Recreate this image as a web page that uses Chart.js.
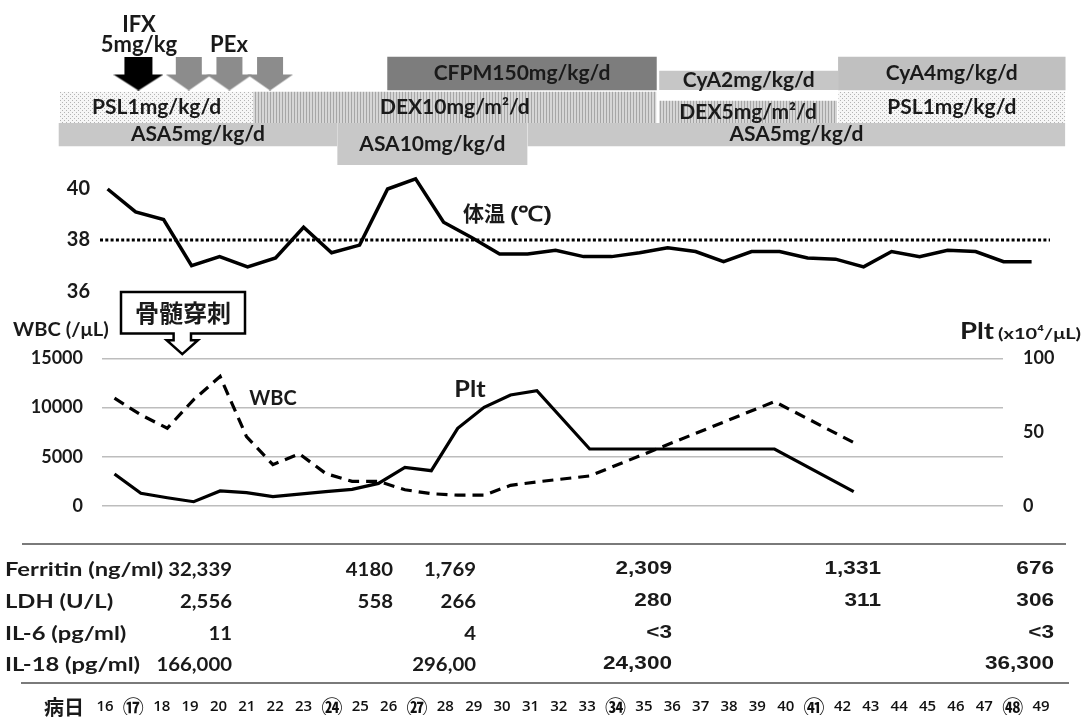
<!DOCTYPE html>
<html>
<head>
<meta charset="utf-8">
<script src="https://cdn.jsdelivr.net/npm/chart.js@4.4.1/dist/chart.umd.min.js"></script>
<style>
  body { margin: 0; background: #fff; width: 1089px; height: 722px; overflow: hidden; position: relative; font-family: Lato, 'Noto Sans CJK JP', sans-serif; }
  canvas { position: absolute; left: 0; }
  .t { position: absolute; font-weight: 700; white-space: nowrap; color: #1a1a1a; line-height: 1; }
  .cjk { font-family: 'Noto Sans CJK JP', sans-serif; }
  .arial { font-family: 'Liberation Sans', Arial, sans-serif; }
  .rule { position: absolute; height: 0; border-top: 2.5px solid #7a7a7a; }
</style>
</head>
<body>
<canvas id="txChart" width="1089" height="170" style="top:0"></canvas>
<canvas id="tempChart" width="1089" height="135" style="top:165px"></canvas>
<canvas id="labChart" width="1089" height="185" style="top:340px"></canvas>
<canvas id="dayChart" width="1089" height="40" style="top:675px"></canvas>
<svg width="1089" height="722" style="position:absolute;left:0;top:0">
  <path d="M121,292 H245 V333.4 H191 V340.3 H197.9 L182.3,354.2 L166.7,340.3 H173.6 V333.4 H121 Z"
        fill="#fff" stroke="#000" stroke-width="2.5" stroke-linejoin="miter"/>
</svg>
<div class="rule" style="left:22px;top:543px;width:1044px"></div>
<div class="rule" style="left:21px;top:682px;width:1048px"></div>

<script>
// ---- data ----
const dayLabels = ['16', '⑰', '18', '19', '20', '21', '22', '23', '㉔', '25', '26', '㉗', '28', '29', '30', '31', '32',
                   '33', '㉞', '35', '36', '37', '38', '39', '40', '㊶', '42', '43', '44', '45', '46', '47', '㊽', '49'];

const tempDays = [16, 17, 18, 19, 20, 21, 22, 23, 24, 25, 26, 27, 28, 29, 30, 31, 32,
                  33, 34, 35, 36, 37, 38, 39, 40, 41, 42, 43, 44, 45, 46, 47, 48, 49];
const tempValues = [40.0, 39.1, 38.8, 37.0, 37.35, 36.95, 37.3, 38.5, 37.5, 37.8, 40.0, 40.4, 38.7, 38.1, 37.45, 37.45, 37.6,
                    37.35, 37.35, 37.5, 37.7, 37.55, 37.15, 37.55, 37.55, 37.3, 37.25, 36.95, 37.55, 37.35, 37.6, 37.55, 37.15, 37.15];
const feverLine = 38;

const labDays = [16, 17, 18, 19, 20, 21, 22, 23, 24, 25, 26, 27, 28, 29, 30, 31, 32, 34, 41, 44];
const wbcValues = [10950, 9250, 7900, 10800, 13150, 7050, 4200, 5300, 3300, 2500, 2500, 1650, 1250, 1100, 1100, 2100, 2450, 3050, 10600, 6450];
const pltValues = [21.7, 8.6, 5.6, 2.9, 10.2, 9.0, 6.3, 8.1, 9.7, 11.3, 15.3, 26.2, 23.9, 52.6, 66.8, 75.2, 78.1, 38.6, 38.6, 9.7];

// treatments: name, row, start day, end day
const drugNames = ['CFPM150mg/kg/d', 'CyA2mg/kg/d', 'CyA4mg/kg/d', 'PSL1mg/kg/d', 'DEX10mg/m²/d', 'DEX5mg/m²/d',
                   'PSL1mg/kg/d', 'ASA5mg/kg/d', 'ASA5mg/kg/d'];
const drugRows = ['r1', 'r1', 'r1', 'r2', 'r2', 'r2', 'r2', 'r3', 'r3'];
const drugStart = [26.0, 35.7, 42.1, 14.3, 21.2, 35.7, 42.1, 14.25, 31.0];
const drugEnd = [35.6, 42.1, 50.2, 21.2, 35.6, 42.05, 50.2, 24.2, 50.2];
const asaHighName = ['ASA10mg/kg/d'];
const asaHighStart = [24.2];
const asaHighEnd = [31.0];
const ifxDays = [17.1];
const pexDays = [18.9, 20.35, 21.8];

const labNames = ['Ferritin (ng/ml)', 'LDH (U/L)', 'IL-6 (pg/ml)', 'IL-18 (pg/ml)'];
const ferritin = ['32,339', '4180', '1,769', '2,309', '1,331', '676'];
const ldh = ['2,556', '558', '266', '280', '311', '306'];
const il6 = ['11', '', '4', '<3', '', '<3'];
const il18 = ['166,000', '', '296,00', '24,300', '', '36,300'];

// ---- defaults ----
Chart.defaults.font.family = "Lato, 'Noto Sans CJK JP', sans-serif";
Chart.defaults.font.weight = 'bold';
Chart.defaults.color = '#1a1a1a';
Chart.defaults.animation = false;
Chart.defaults.responsive = false;
Chart.defaults.plugins.legend.display = false;
Chart.defaults.plugins.tooltip.enabled = false;

// y axes: keep the chart area exactly where the padding puts it
function fixAxis(width) {
    return s => { s.width = width; s.paddingTop = 0; s.paddingBottom = 0; };
}

// ---- treatment bars ----
const txCanvas = document.getElementById('txChart');
const txCtx = txCanvas.getContext('2d');

function tilePattern(w, h, bg, fg, dots) {
    const c = document.createElement('canvas');
    c.width = w; c.height = h;
    const g = c.getContext('2d');
    g.fillStyle = bg; g.fillRect(0, 0, w, h);
    g.fillStyle = fg;
    dots.forEach(d => g.fillRect(d[0], d[1], d[2], d[3]));
    return txCtx.createPattern(c, 'repeat');
}
const dotFill = tilePattern(4, 4, '#f6f6f6', '#b4b4b4', [[0, 0, 1, 1], [2, 2, 1, 1]]);
const stripeFill = tilePattern(3, 1, '#d6d6d6', '#a6a6a6', [[0, 0, 1, 1]]);

function arrowImg(color, headW, stemW, h, stemH) {
    const c = document.createElement('canvas');
    c.width = headW; c.height = h;
    const g = c.getContext('2d');
    const s0 = (headW - stemW) / 2;
    g.fillStyle = color;
    g.beginPath();
    g.moveTo(s0, 0); g.lineTo(s0 + stemW, 0); g.lineTo(s0 + stemW, stemH);
    g.lineTo(headW, stemH); g.lineTo(headW / 2, h); g.lineTo(0, stemH); g.lineTo(s0, stemH);
    g.closePath(); g.fill();
    return c;
}

const drugColors = ['#7d7d7d', '#c6c6c6', '#c0c0c0', dotFill, stripeFill, stripeFill, dotFill, '#c8c8c8', '#c8c8c8'];
const clear = 'rgba(0,0,0,0)';
// trim rows to their drawn heights
const drugTrim = [{}, {top: 14}, {}, {top: 2}, {top: 2}, {top: 11}, {top: 2}, {bottom: 10}, {bottom: 10}];

const barLabels = {
    id: 'barLabels',
    afterDatasetsDraw(chart) {
        const ctx = chart.ctx;
        ctx.save();
        ctx.font = "bold 21px Lato, sans-serif";
        ctx.fillStyle = '#1a1a1a';
        ctx.textAlign = 'center';
        ctx.textBaseline = 'middle';
        chart.data.datasets.forEach((ds, di) => {
            if (!ds.names) return;
            chart.getDatasetMeta(di).data.forEach((bar, i) => {
                const p = bar.getProps(['x', 'y', 'base'], true);
                const bw = Array.isArray(ds.borderWidth) ? ds.borderWidth[i] : ds.borderWidth;
                const cy = p.y + ((bw.top || 0) - (bw.bottom || 0)) / 2;
                ctx.fillText(ds.names[i], (p.x + p.base) / 2, cy);
            });
        });
        ctx.restore();
    }
};

new Chart(txCtx, {
    type: 'bar',
    data: {
        labels: ['r1', 'r2', 'r3'],
        datasets: [
            {
                type: 'scatter',
                data: ifxDays.map(d => ({x: d, y: 'r1'})),
                pointStyle: arrowImg('#000', 50, 28, 34, 18),
                pointRadius: 5,
                clip: false
            },
            {
                type: 'scatter',
                data: pexDays.map(d => ({x: d, y: 'r1'})),
                pointStyle: arrowImg('#8c8c8c', 46, 26, 34, 18),
                pointRadius: 5,
                clip: false
            },
            {
                indexAxis: 'y',
                names: drugNames,
                data: drugStart.map((s, i) => ({x: [s, drugEnd[i]], y: drugRows[i]})),
                backgroundColor: drugColors,
                borderColor: clear,
                borderWidth: drugTrim,
                borderSkipped: false,
                grouped: false,
                barPercentage: 1,
                categoryPercentage: 1,
                clip: false
            },
            {
                indexAxis: 'y',
                names: asaHighName,
                data: asaHighStart.map((s, i) => ({x: [s, asaHighEnd[i]], y: 'r3'})),
                backgroundColor: '#c8c8c8',
                borderColor: clear,
                borderWidth: {top: 9},
                borderSkipped: false,
                grouped: false,
                barPercentage: 1.545,
                categoryPercentage: 1,
                clip: false
            }
        ]
    },
    options: {
        indexAxis: 'y',
        layout: {autoPadding: false, padding: {left: 0, right: 0, top: 57, bottom: 14}},
        scales: {
            x: {type: 'linear', min: 12.157, max: 51.05, display: false},
            y: {type: 'category', display: false}
        }
    },
    plugins: [barLabels]
});

// ---- body temperature ----
const tempMin = 15.729, tempMax = 49.657;
new Chart(document.getElementById('tempChart'), {
    type: 'line',
    data: {
        datasets: [
            {
                data: tempDays.map((d, i) => ({x: d, y: tempValues[i]})),
                borderColor: '#000',
                borderWidth: 3.5,
                pointRadius: 0,
                borderJoinStyle: 'miter'
            },
            {
                data: [{x: tempMin, y: feverLine}, {x: tempMax, y: feverLine}],
                borderColor: '#000',
                borderWidth: 3,
                borderDash: [3, 2.3],
                pointRadius: 0
            }
        ]
    },
    options: {
        layout: {autoPadding: false, padding: {left: 0, right: 39, top: 0, bottom: 0}},
        scales: {
            x: {type: 'linear', min: tempMin, max: tempMax, display: false},
            y: {
                min: 35.65, max: 40.94,
                afterBuildTicks: s => { s.ticks = [36, 38, 40].map(v => ({value: v})); },
                afterFit: fixAxis(100),
                grid: {display: false, drawTicks: false},
                border: {display: false},
                ticks: {font: {size: 20, weight: 'bold'}, padding: 10, color: '#1a1a1a'}
            }
        }
    }
});

// ---- WBC / Plt ----
const labMin = 15.527, labMax = 49.655;
new Chart(document.getElementById('labChart'), {
    type: 'line',
    data: {
        datasets: [
            {
                label: 'WBC',
                data: labDays.map((d, i) => ({x: d, y: wbcValues[i]})),
                yAxisID: 'y',
                borderColor: '#000',
                borderWidth: 3.2,
                borderDash: [11, 7],
                pointRadius: 0
            },
            {
                label: 'Plt',
                data: labDays.map((d, i) => ({x: d, y: pltValues[i]})),
                yAxisID: 'y1',
                borderColor: '#000',
                borderWidth: 3.2,
                pointRadius: 0
            }
        ]
    },
    options: {
        layout: {autoPadding: false, padding: {left: 0, right: 0, top: 18.3, bottom: 19}},
        scales: {
            x: {type: 'linear', min: labMin, max: labMax, display: false},
            y: {
                position: 'left', min: 0, max: 15000,
                ticks: {stepSize: 5000, font: {size: 18, weight: 'bold'}, padding: 19, color: '#1a1a1a',
                        callback: v => String(v)},
                afterFit: fixAxis(102),
                grid: {color: '#bdbdbd', lineWidth: 1.6, drawTicks: false},
                border: {display: false}
            },
            y1: {
                position: 'right', min: 0, max: 100,
                ticks: {stepSize: 50, font: {size: 18, weight: 'bold'}, padding: 20, color: '#1a1a1a'},
                afterFit: fixAxis(86),
                grid: {display: false, drawTicks: false},
                border: {display: false}
            }
        }
    }
});

// ---- day axis ----
new Chart(document.getElementById('dayChart'), {
    type: 'line',
    data: {labels: dayLabels, datasets: []},
    options: {
        layout: {autoPadding: false, padding: {left: 105, right: 48, top: 0, bottom: 0}},
        scales: {
            x: {
                offset: false,
                grid: {display: false, drawTicks: false},
                border: {display: false},
                ticks: {
                    autoSkip: false, maxRotation: 0, padding: 0, color: '#111',
                    font: ctx => /^[0-9]+$/.test(dayLabels[ctx.index])
                        ? {size: 15, weight: '600', family: "'Open Sans', sans-serif", lineHeight: '24px'}
                        : {size: 21, weight: 'bold', family: "'Noto Sans CJK JP', sans-serif", lineHeight: '24px'}
                }
            },
            y: {display: false}
        }
    }
});

// ---- text labels ----
function addText(txt, x, y, size, align, cls, sx) {
    const d = document.createElement('div');
    d.className = 't' + (cls ? ' ' + cls : '');
    d.textContent = txt;
    d.style.left = x + 'px';
    d.style.top = y + 'px';
    d.style.fontSize = size + 'px';
    const tx = align === 'center' ? '-50%' : align === 'right' ? '-100%' : '0';
    const origin = align === 'center' ? 'center' : align === 'right' ? 'right' : 'left';
    d.style.transformOrigin = origin + ' center';
    d.style.transform = 'translate(' + tx + ',-50%) scaleX(' + (sx || 1) + ')';
    document.body.appendChild(d);
    return d;
}

addText('IFX', 139, 24, 22, 'center');
addText('5mg/kg', 139, 44, 22, 'center');
addText('PEx', 229, 44, 22, 'center');
addText('体温', 463, 212, 21, 'left', 'cjk');
addText('(℃)', 510, 213, 21, 'left', 'arial', 1.2);
addText('WBC (/μL)', 13, 328, 19, 'left', '', 1.06);
addText('Plt', 960, 331, 22, 'left', '', 1.25);
addText('(x10⁴/μL)', 998, 333, 16, 'left', '', 1.25);
addText('WBC', 273, 397, 20, 'center');
addText('Plt', 470, 389, 22, 'center', '', 1.15);
addText('骨髄穿刺', 183, 312, 24, 'center', 'cjk');
addText('病日', 44, 707, 20, 'left', 'cjk');

const colRight = [232, 393, 476, 672, 881, 1054];
const rowY = [568, 600, 632, 663];
[ferritin, ldh, il6, il18].forEach((row, r) => {
    addText(labNames[r], 5, rowY[r], 19, 'left', '', 1.25);
    row.forEach((v, c) => {
        if (!v) return;
        if (c < 3) addText(v, colRight[c], rowY[r], 19, 'right', '', 1.07);
        else addText(v, colRight[c], rowY[r], 18.5, 'right', 'arial', 1.22);
    });
});
</script>
</body>
</html>
